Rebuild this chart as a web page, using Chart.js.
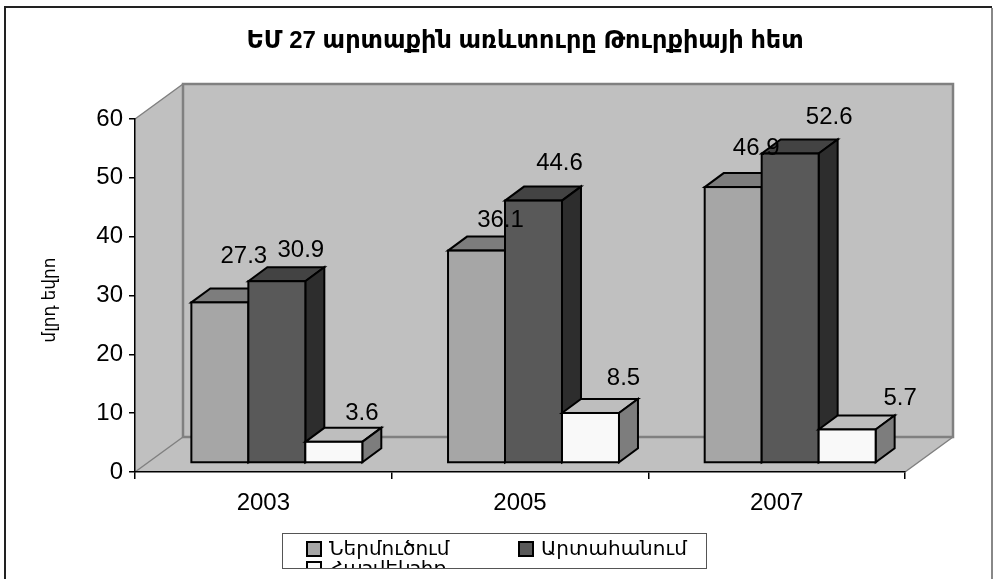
<!DOCTYPE html>
<html>
<head>
<meta charset="utf-8">
<script src="https://cdn.jsdelivr.net/npm/chart.js@4"></script>
<style>
  body { margin: 0; background: #fff; }
</style>
</head>
<body>
<canvas id="tradeChart" width="993" height="579"></canvas>
<script>
const titleText = 'ԵՄ 27 արտաքին առևտուրը Թուրքիայի հետ';
const yTitle = 'մլրդ եվրո';
const years = ['2003', '2005', '2007'];
const imports = [27.3, 36.1, 46.9];
const exports_ = [30.9, 44.6, 52.6];
const balance = [3.6, 8.5, 5.7];
const seriesNames = ['Ներմուծում', 'Արտահանում', 'Հաշվեկշիռ'];

// excel moved these labels by hand, so offsets from the bar top are per label
const labelShift = [
    [[24, -46], [24, -31], [28, -28]],
    [[24, -30], [26, -37], [33, -35]],
    [[23, -39], [39, -36], [53, -31]]
];

const fontFamily = '"Liberation Sans", "DejaVu Sans", sans-serif';
const faces = ['#a6a6a6', '#595959', '#f9f9f9'];
const tops = ['#7d7d7d', '#434343', '#bebebe'];
const sides = ['#535353', '#2d2d2d', '#7d7d7d'];

const wallDepth = { x: 48, y: -35 };
const barDepth = { x: 19, y: -14 };
const barShift = { x: 13.5, y: -9 };

function poly(ctx, pts, fill, stroke, width) {
    ctx.beginPath();
    pts.forEach((p, i) => i ? ctx.lineTo(p[0], p[1]) : ctx.moveTo(p[0], p[1]));
    ctx.closePath();
    if (fill) {
        ctx.fillStyle = fill;
        ctx.fill();
    }
    if (stroke) {
        ctx.strokeStyle = stroke;
        ctx.lineWidth = width;
        ctx.lineJoin = 'miter';
        ctx.stroke();
    }
}

const box3d = {
    id: 'box3d',
    afterLayout(chart) {
        // title is centred on the page area right of the axis, not on the canvas
        chart.titleBlock.left = 145;
    },
    beforeDraw(chart) {
        const ctx = chart.ctx;
        const { left, right, top, bottom } = chart.chartArea;
        const dx = wallDepth.x, dy = wallDepth.y;
        ctx.save();
        // outer frame, no bottom line in the original
        ctx.lineWidth = 2;
        ctx.strokeStyle = '#222';
        ctx.beginPath();
        ctx.moveTo(5, 579);
        ctx.lineTo(5, 7);
        ctx.lineTo(992, 7);
        ctx.stroke();
        ctx.strokeStyle = '#888';
        ctx.beginPath();
        ctx.moveTo(992, 8);
        ctx.lineTo(992, 579);
        ctx.stroke();

        poly(ctx, [[left, top], [left + dx, top + dy], [left + dx, bottom + dy], [left, bottom]], '#c0c0c0');
        poly(ctx, [[left, bottom], [left + dx, bottom + dy], [right + dx, bottom + dy], [right, bottom]], '#c0c0c0');
        poly(ctx, [[left + dx, top + dy], [right + dx, top + dy], [right + dx, bottom + dy], [left + dx, bottom + dy]], '#c0c0c0', '#808080', 2.5);
        ctx.strokeStyle = '#808080';
        ctx.lineWidth = 1.5;
        ctx.beginPath();
        ctx.moveTo(left, top);
        ctx.lineTo(left + dx, top + dy);
        ctx.moveTo(left, bottom);
        ctx.lineTo(left + dx, bottom + dy);
        ctx.moveTo(right, bottom);
        ctx.lineTo(right + dx, bottom + dy);
        ctx.stroke();
        ctx.restore();

        // axis title sits a bit below the middle of the axis
        ctx.save();
        ctx.translate(50, 300);
        ctx.rotate(-Math.PI / 2);
        ctx.font = '17px ' + fontFamily;
        ctx.fillStyle = '#000';
        ctx.textAlign = 'center';
        ctx.textBaseline = 'middle';
        ctx.fillText(yTitle, 0, 0);
        ctx.restore();
    },
    // chart.js paints the first dataset last, here the later series must overlap the earlier
    beforeDatasetDraw() {
        return false;
    },
    beforeDatasetsDraw(chart) {
        const ctx = chart.ctx;
        const dx = barDepth.x, dy = barDepth.y;
        ctx.save();
        ctx.translate(barShift.x, barShift.y);
        chart.data.datasets.forEach((ds, i) => {
            const meta = chart.getDatasetMeta(i);
            meta.data.forEach(bar => {
                const l = bar.x - bar.width / 2, r = bar.x + bar.width / 2;
                poly(ctx, [[l, bar.y], [l + dx, bar.y + dy], [r + dx, bar.y + dy], [r, bar.y]], tops[i], '#000', 2);
                poly(ctx, [[r, bar.y], [r + dx, bar.y + dy], [r + dx, bar.base + dy], [r, bar.base]], sides[i], '#000', 2);
            });
            meta.controller.draw();
            ctx.strokeStyle = '#000';
            ctx.lineWidth = 2;
            meta.data.forEach(bar => {
                ctx.strokeRect(bar.x - bar.width / 2, bar.y, bar.width, bar.base - bar.y);
            });
        });
        ctx.restore();
    },
    afterDatasetsDraw(chart) {
        const ctx = chart.ctx;
        ctx.save();
        ctx.font = '24px ' + fontFamily;
        ctx.fillStyle = '#000';
        ctx.textAlign = 'center';
        ctx.textBaseline = 'middle';
        chart.data.datasets.forEach((ds, i) => {
            chart.getDatasetMeta(i).data.forEach((bar, k) => {
                const s = labelShift[k][i];
                ctx.fillText(ds.data[k].toFixed(1), bar.x + barShift.x + s[0], bar.y + barShift.y + s[1]);
            });
        });
        ctx.restore();
    },
    afterDraw(chart) {
        // legend box is too short for its three rows, the last one gets cut
        const ctx = chart.ctx;
        const box = { x: 282, y: 533, w: 424, h: 35 };
        const rows = [[306, 541], [518, 541], [306, 561]];
        ctx.save();
        ctx.beginPath();
        ctx.rect(box.x, box.y, box.w, box.h);
        ctx.clip();
        ctx.fillStyle = '#fff';
        ctx.fillRect(box.x, box.y, box.w, box.h);
        ctx.font = '20px ' + fontFamily;
        ctx.textBaseline = 'middle';
        chart.data.datasets.forEach((ds, i) => {
            const r = rows[i];
            ctx.fillStyle = faces[i];
            ctx.strokeStyle = '#000';
            ctx.lineWidth = 2;
            ctx.fillRect(r[0] + 1, r[1] + 1, 14, 14);
            ctx.strokeRect(r[0] + 1, r[1] + 1, 14, 14);
            ctx.fillStyle = '#000';
            ctx.fillText(ds.label, r[0] + 23, r[1] + 8);
        });
        ctx.restore();
        ctx.strokeStyle = '#555';
        ctx.lineWidth = 1;
        ctx.strokeRect(box.x + 0.5, box.y + 0.5, box.w, box.h);
    }
};

const chart = new Chart(document.getElementById('tradeChart').getContext('2d'), {
    type: 'bar',
    data: {
        labels: years,
        datasets: [
            { label: seriesNames[0], data: imports, backgroundColor: faces[0] },
            { label: seriesNames[1], data: exports_, backgroundColor: faces[1] },
            { label: seriesNames[2], data: balance, backgroundColor: faces[2] }
        ]
    },
    options: {
        responsive: false,
        animation: false,
        layout: { padding: { left: 0, right: 88, top: 0, bottom: 0 } },
        datasets: { bar: { categoryPercentage: 0.666, barPercentage: 1, borderWidth: 0 } },
        plugins: {
            legend: { display: false },
            tooltip: { enabled: false },
            title: {
                display: true,
                text: titleText,
                color: '#000',
                font: { family: fontFamily, size: 24, weight: 'bold', lineHeight: 1.2 },
                padding: { top: 27, bottom: 63.2 }
            }
        },
        scales: {
            x: {
                grid: { drawOnChartArea: false, color: '#000', tickLength: 7, lineWidth: 1.5 },
                border: { color: '#000', width: 1.5 },
                ticks: { color: '#000', font: { family: fontFamily, size: 24 }, padding: 10, maxRotation: 0 },
                afterFit(scale) { scale.height = 107; }
            },
            y: {
                min: 0,
                max: 60,
                grid: { drawOnChartArea: false, color: '#000', tickLength: 6, lineWidth: 1.5 },
                border: { color: '#000', width: 1.5 },
                ticks: { stepSize: 10, color: '#000', font: { family: fontFamily, size: 24 }, padding: 6 },
                afterFit(scale) { scale.width = 135; }
            }
        }
    },
    plugins: [box3d]
});
</script>
</body>
</html>
